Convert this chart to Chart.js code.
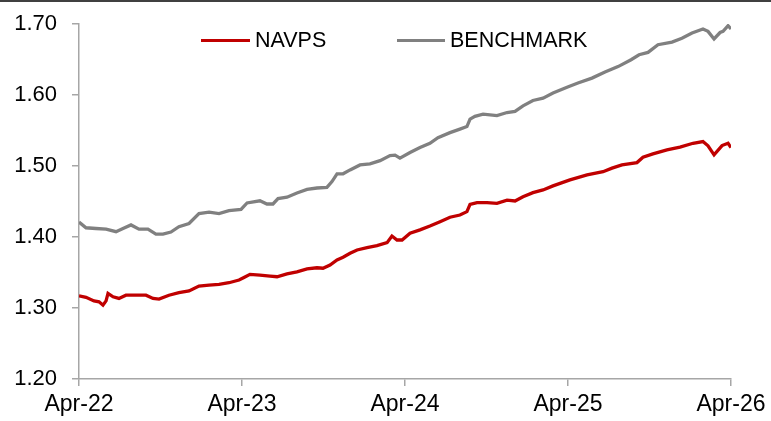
<!DOCTYPE html>
<html>
<head>
<meta charset="utf-8">
<script src="https://cdn.jsdelivr.net/npm/chart.js@4/dist/chart.umd.min.js"></script>
<style>
  html, body { margin: 0; padding: 0; background: #ffffff; }
  #wrap { position: relative; width: 771px; height: 421px; }
</style>
</head>
<body>
<div id="wrap"><canvas id="c" width="771" height="421"></canvas></div>
<script>
// Time in years since Apr-22
const xTickLabels = ['Apr-22', 'Apr-23', 'Apr-24', 'Apr-25', 'Apr-26'];
const yTickValues = [1.20, 1.30, 1.40, 1.50, 1.60, 1.70];
const seriesNames = ['NAVPS', 'BENCHMARK'];

const navT = [0, 0.043, 0.092, 0.123, 0.147, 0.166, 0.178, 0.209, 0.245, 0.288, 0.350, 0.411, 0.454, 0.491, 0.552, 0.613, 0.675, 0.736, 0.798, 0.859, 0.920, 0.982, 1.012, 1.049, 1.110, 1.172, 1.215, 1.276, 1.337, 1.399, 1.460, 1.497, 1.540, 1.583, 1.620, 1.663, 1.706, 1.767, 1.828, 1.890, 1.920, 1.951, 1.982, 2.031, 2.092, 2.153, 2.215, 2.276, 2.337, 2.380, 2.399, 2.442, 2.503, 2.564, 2.626, 2.675, 2.724, 2.785, 2.847, 2.908, 3.012, 3.117, 3.215, 3.270, 3.331, 3.423, 3.460, 3.521, 3.607, 3.687, 3.767, 3.828, 3.859, 3.896, 3.945, 3.982, 4.0];
const navV = [1.317, 1.315, 1.310, 1.3087, 1.304, 1.310, 1.3206, 1.3158, 1.3135, 1.318, 1.318, 1.318, 1.3135, 1.3125, 1.318, 1.3215, 1.324, 1.331, 1.3323, 1.3333, 1.3356, 1.3394, 1.343, 1.3474, 1.3464, 1.345, 1.344, 1.348, 1.351, 1.355, 1.3567, 1.356, 1.3605, 1.3676, 1.3714, 1.377, 1.3817, 1.385, 1.3878, 1.392, 1.4014, 1.3958, 1.3958, 1.4053, 1.410, 1.4155, 1.4216, 1.4278, 1.431, 1.4357, 1.446, 1.4484, 1.4484, 1.4475, 1.452, 1.4508, 1.4568, 1.4625, 1.4663, 1.472, 1.4804, 1.4875, 1.492, 1.497, 1.5015, 1.5048, 1.5123, 1.517, 1.5227, 1.5265, 1.532, 1.5344, 1.5284, 1.5157, 1.5288, 1.532, 1.526];

const benchT = [0, 0.043, 0.104, 0.166, 0.227, 0.270, 0.319, 0.368, 0.423, 0.472, 0.515, 0.564, 0.613, 0.675, 0.736, 0.798, 0.859, 0.920, 0.994, 1.031, 1.110, 1.153, 1.190, 1.221, 1.276, 1.337, 1.399, 1.460, 1.521, 1.552, 1.583, 1.620, 1.663, 1.724, 1.785, 1.847, 1.908, 1.939, 1.969, 2.031, 2.092, 2.153, 2.202, 2.276, 2.337, 2.380, 2.399, 2.429, 2.479, 2.564, 2.626, 2.675, 2.724, 2.785, 2.847, 2.908, 2.994, 3.061, 3.147, 3.227, 3.307, 3.387, 3.436, 3.491, 3.552, 3.638, 3.699, 3.761, 3.828, 3.859, 3.896, 3.933, 3.951, 3.982, 4.0];
const benchV = [1.421, 1.413, 1.412, 1.411, 1.4075, 1.412, 1.417, 1.411, 1.411, 1.404, 1.404, 1.407, 1.4145, 1.419, 1.433, 1.435, 1.433, 1.437, 1.439, 1.448, 1.451, 1.4465, 1.4465, 1.454, 1.456, 1.462, 1.467, 1.469, 1.470, 1.478, 1.489, 1.489, 1.4945, 1.5015, 1.503, 1.5076, 1.5147, 1.5152, 1.511, 1.519, 1.526, 1.532, 1.540, 1.547, 1.552, 1.5556, 1.566, 1.570, 1.573, 1.571, 1.5753, 1.577, 1.5848, 1.5923, 1.5956, 1.6027, 1.611, 1.6168, 1.6238, 1.6323, 1.640, 1.6497, 1.6567, 1.660, 1.6708, 1.6746, 1.680, 1.6873, 1.693, 1.6896, 1.679, 1.688, 1.6896, 1.6976, 1.693];

const FONT = '"Liberation Sans", Arial, Helvetica, sans-serif';

const topBorder = {
  id: 'topBorder',
  beforeDraw(chart) {
    const ctx = chart.ctx;
    ctx.save();
    ctx.fillStyle = '#ffffff';
    ctx.fillRect(0, 0, chart.width, chart.height);
    ctx.fillStyle = '#404040';
    ctx.fillRect(0, 0, chart.width, 2);
    ctx.restore();
  }
};

const inLegend = {
  id: 'inLegend',
  afterDraw(chart) {
    const ctx = chart.ctx;
    const items = [{ x0: 201, x1: 250, tx: 255 }, { x0: 397, x1: 445, tx: 450 }];
    const y = 40.5;
    ctx.save();
    ctx.font = '21.5px ' + FONT;
    ctx.textBaseline = 'middle';
    ctx.textAlign = 'left';
    chart.data.datasets.forEach((ds, i) => {
      const it = items[i];
      ctx.strokeStyle = ds.borderColor;
      ctx.lineWidth = 3;
      ctx.beginPath();
      ctx.moveTo(it.x0, y);
      ctx.lineTo(it.x1, y);
      ctx.stroke();
      ctx.fillStyle = '#000000';
      ctx.fillText(ds.label, it.tx, y + 1);
    });
    ctx.restore();
  }
};

new Chart(document.getElementById('c'), {
  type: 'line',
  data: {
    datasets: [
      {
        label: seriesNames[0],
        data: navT.map((t, i) => ({ x: t, y: navV[i] })),
        borderColor: '#C00000',
        backgroundColor: '#C00000',
        borderWidth: 3.3,
        pointRadius: 0,
        tension: 0,
        fill: false
      },
      {
        label: seriesNames[1],
        data: benchT.map((t, i) => ({ x: t, y: benchV[i] })),
        borderColor: '#808080',
        backgroundColor: '#808080',
        borderWidth: 3.3,
        pointRadius: 0,
        tension: 0,
        fill: false
      }
    ]
  },
  options: {
    responsive: false,
    animation: false,
    devicePixelRatio: 1,
    layout: { padding: { top: 24, right: 40, left: 0, bottom: 0 } },
    plugins: {
      legend: { display: false },
      tooltip: { enabled: false }
    },
    scales: {
      x: {
        type: 'linear',
        min: 0,
        max: 4,
        afterFit(scale) {
          scale.height = 42;
          scale.paddingLeft = 0;
          scale.paddingRight = 0;
        },
        afterBuildTicks(scale) {
          scale.ticks = xTickLabels.map((_, i) => ({ value: i }));
        },
        ticks: {
          autoSkip: false,
          maxRotation: 0,
          padding: 5,
          color: '#000000',
          font: { family: FONT, size: 23 },
          callback: (v) => xTickLabels[v]
        },
        grid: {
          display: true,
          drawOnChartArea: false,
          drawTicks: true,
          tickLength: 7,
          color: '#a6a6a6',
          lineWidth: 1.5
        },
        border: { display: true, color: '#a6a6a6', width: 1.5 }
      },
      y: {
        min: 1.2,
        max: 1.7,
        afterFit(scale) {
          scale.width = 79;
          scale.paddingTop = 0;
          scale.paddingBottom = 0;
        },
        afterBuildTicks(scale) {
          scale.ticks = yTickValues.map(v => ({ value: v }));
        },
        ticks: {
          padding: 15,
          color: '#000000',
          font: { family: FONT, size: 22 },
          callback: (v) => Number(v).toFixed(2)
        },
        grid: {
          display: true,
          drawOnChartArea: false,
          drawTicks: true,
          tickLength: 7,
          color: '#a6a6a6',
          lineWidth: 1.5
        },
        border: { display: true, color: '#a6a6a6', width: 1.5 }
      }
    }
  },
  plugins: [topBorder, inLegend]
});
</script>
</body>
</html>
